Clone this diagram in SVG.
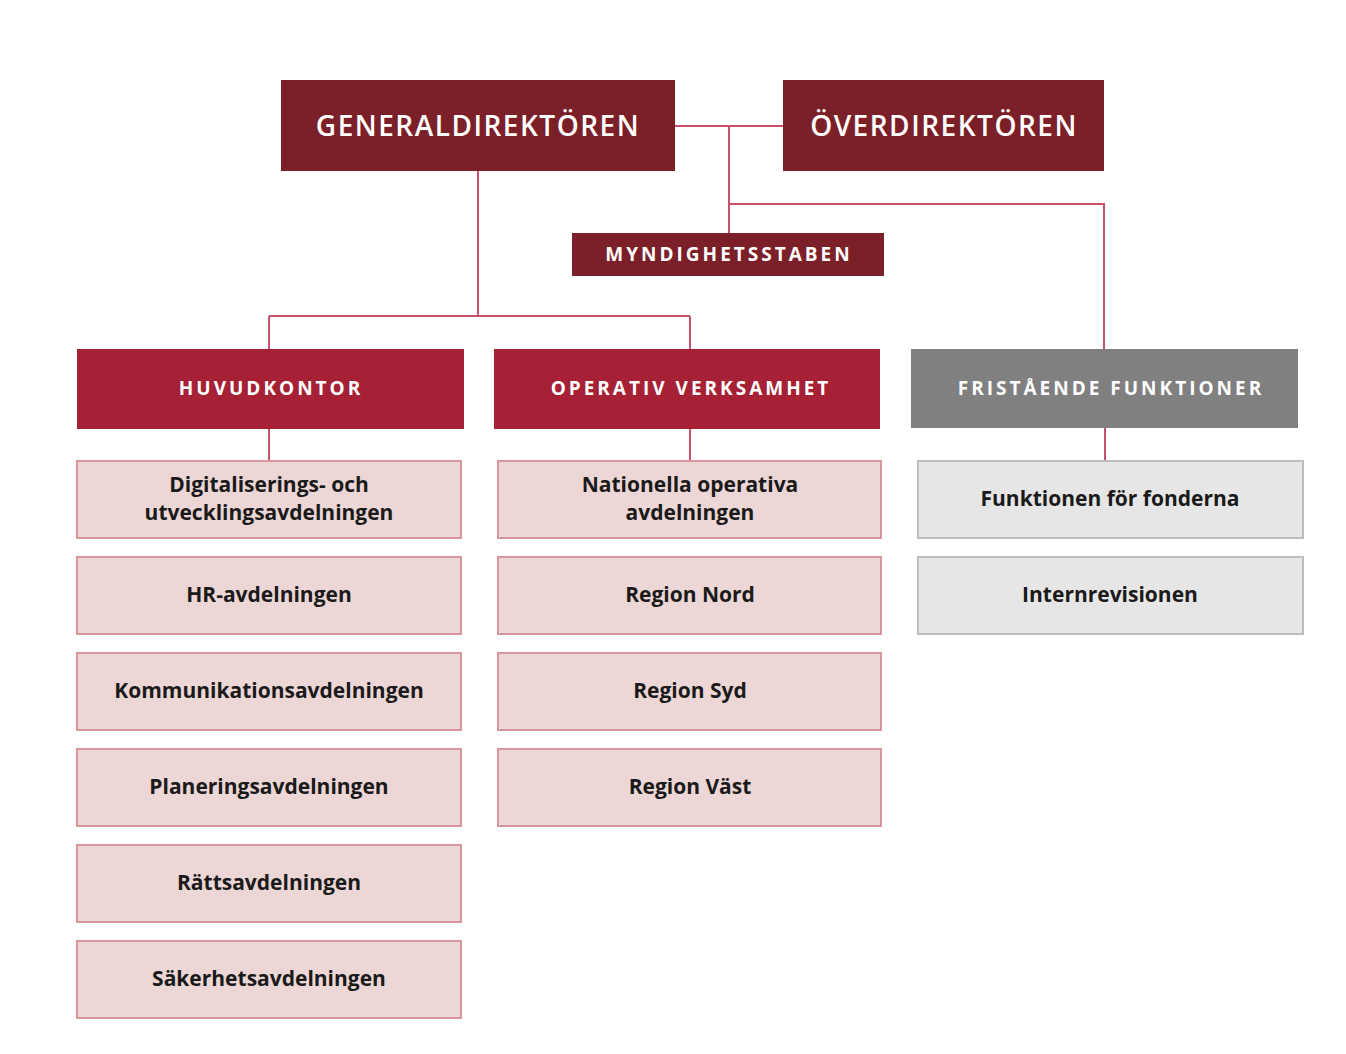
<svg xmlns="http://www.w3.org/2000/svg" width="1346" height="1054" viewBox="0 0 1346 1054">
<style>
.top{fill:#7b1f28;}
.mid{fill:#a62135;}
.gray{fill:#808080;}
.pk{fill:#ecd6d6;stroke:#d8959a;stroke-width:2;}
.gy{fill:#e6e6e6;stroke:#bdbdbd;stroke-width:2;}
.conn{fill:none;stroke:#c9506a;stroke-width:2;}
.t1{font-family:"Open Sans","Noto Sans",sans-serif;font-weight:600;font-size:28px;fill:#fff;letter-spacing:1.5px;text-anchor:middle;}
.t2{font-family:"Open Sans","Noto Sans",sans-serif;font-weight:700;font-size:19px;fill:#fff;letter-spacing:3px;text-anchor:middle;}
.t3{font-family:"Open Sans","Noto Sans",sans-serif;font-weight:700;font-size:21px;fill:#1a1a1a;text-anchor:middle;}
</style>
<rect width="1346" height="1054" fill="#fff"/>
<g id="connectors">
<path class="conn" d="M675,126 H783 M729,126 V233 M729,204 H1104 V349"/>
<path class="conn" d="M478,171 V316 M269,316 H690 M269,316 V349 M690,316 V349"/>
<path class="conn" d="M269,429 V460 M690,429 V460 M1105,428 V460"/>
</g>
<g id="generaldirektoren"><rect class="top" x="281" y="80" width="394" height="91"/><text class="t1" x="478" y="136">GENERALDIREKTÖREN</text></g>
<g id="overdirektoren"><rect class="top" x="783" y="80" width="321" height="91"/><text class="t1" x="944" y="136">ÖVERDIREKTÖREN</text></g>
<g id="myndighetsstaben"><rect class="top" x="572" y="233" width="312" height="43"/><text class="t2" x="729" y="261">MYNDIGHETSSTABEN</text></g>
<g id="huvudkontor"><rect class="mid" x="77" y="349" width="387" height="80"/><text class="t2" x="271" y="395">HUVUDKONTOR</text></g>
<g id="operativ"><rect class="mid" x="494" y="349" width="386" height="80"/><text class="t2" x="691" y="395">OPERATIV VERKSAMHET</text></g>
<g id="fristaende"><rect class="gray" x="911" y="349" width="387" height="79"/><text class="t2" x="1111" y="395">FRISTÅENDE FUNKTIONER</text></g>
<g id="digitalisering"><rect class="pk" x="77" y="461" width="384" height="77"/><text class="t3" x="269" y="492">Digitaliserings- och</text><text class="t3" x="269" y="520">utvecklingsavdelningen</text></g>
<g id="hr"><rect class="pk" x="77" y="557" width="384" height="77"/><text class="t3" x="269" y="602">HR-avdelningen</text></g>
<g id="kommunikation"><rect class="pk" x="77" y="653" width="384" height="77"/><text class="t3" x="269" y="698">Kommunikationsavdelningen</text></g>
<g id="planering"><rect class="pk" x="77" y="749" width="384" height="77"/><text class="t3" x="269" y="794">Planeringsavdelningen</text></g>
<g id="ratt"><rect class="pk" x="77" y="845" width="384" height="77"/><text class="t3" x="269" y="890">Rättsavdelningen</text></g>
<g id="sakerhet"><rect class="pk" x="77" y="941" width="384" height="77"/><text class="t3" x="269" y="986">Säkerhetsavdelningen</text></g>
<g id="nationella"><rect class="pk" x="498" y="461" width="383" height="77"/><text class="t3" x="690" y="492">Nationella operativa</text><text class="t3" x="690" y="520">avdelningen</text></g>
<g id="nord"><rect class="pk" x="498" y="557" width="383" height="77"/><text class="t3" x="690" y="602">Region Nord</text></g>
<g id="syd"><rect class="pk" x="498" y="653" width="383" height="77"/><text class="t3" x="690" y="698">Region Syd</text></g>
<g id="vast"><rect class="pk" x="498" y="749" width="383" height="77"/><text class="t3" x="690" y="794">Region Väst</text></g>
<g id="fonderna"><rect class="gy" x="918" y="461" width="385" height="77"/><text class="t3" x="1110" y="506">Funktionen för fonderna</text></g>
<g id="internrevision"><rect class="gy" x="918" y="557" width="385" height="77"/><text class="t3" x="1110" y="602">Internrevisionen</text></g>
</svg>
